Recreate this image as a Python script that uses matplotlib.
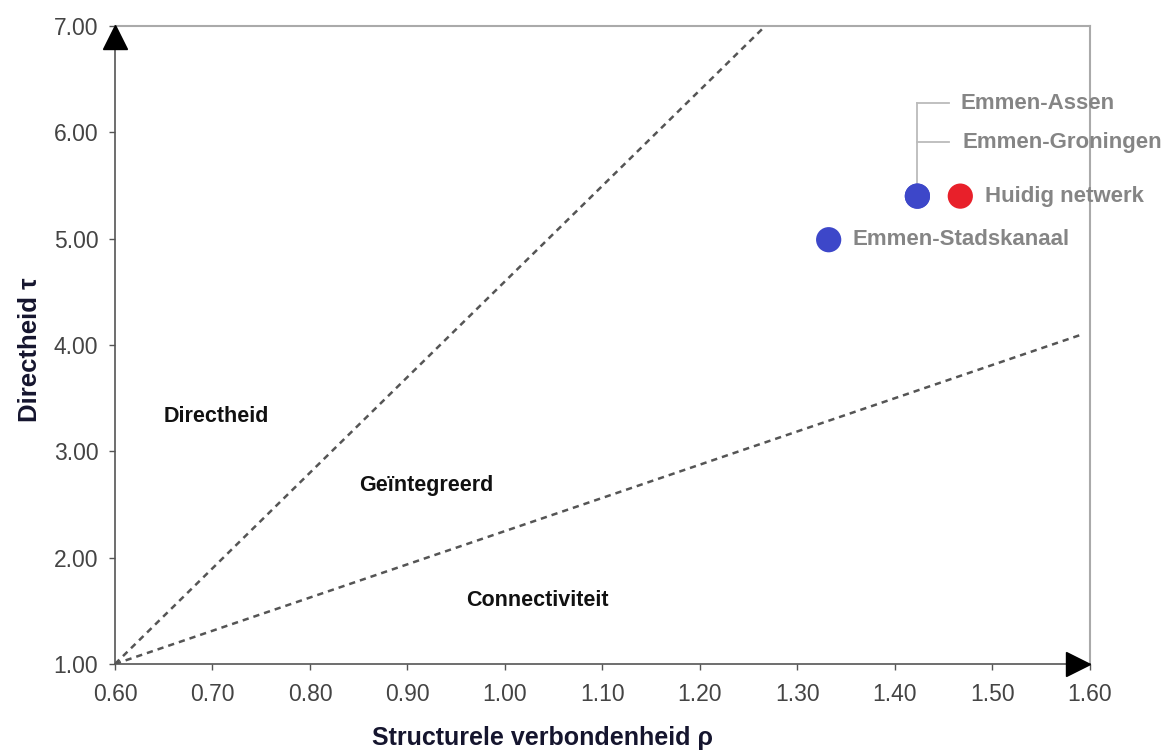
import matplotlib
matplotlib.use('Agg')
import matplotlib.pyplot as plt
import numpy as np

plt.rcParams['font.family'] = ['Liberation Sans', 'DejaVu Sans']

# scenario points
scenarios = ['Huidig netwerk', 'Emmen-Assen', 'Emmen-Groningen', 'Emmen-Stadskanaal']
rho = [1.467, 1.423, 1.423, 1.332]
tau = [5.40, 5.40, 5.40, 4.99]
point_colors = ['#e8202a', '#3d47c9', '#3d47c9', '#3d47c9']

# region boundaries, both starting from (0.60, 1.00)
bound_rho = [[0.60, 1.267], [0.60, 1.592]]
bound_tau = [[1.00, 7.00], [1.00, 4.10]]

regions = ['Directheid', 'Geïntegreerd', 'Connectiviteit']
region_rho = [0.65, 0.85, 0.96]
region_tau = [3.33, 2.68, 1.60]

xticks = np.arange(0.6, 1.61, 0.1)
yticks = np.arange(1.0, 7.01, 1.0)

fig = plt.figure(figsize=(11.67, 7.53), dpi=100)
ax = fig.add_axes([0.0985, 0.1182, 0.8355, 0.8473])

for bx, by in zip(bound_rho, bound_tau):
    ax.plot(bx, by, linestyle=(0, (2.5, 2)), color='#555555', lw=1.8)

# leader lines for the labels sharing the blue point
lx = rho[1]
ax.plot([lx, lx], [tau[1] + 0.12, 6.275], color='#bbbbbb', lw=1.3)
ax.plot([lx, 1.455], [6.275, 6.275], color='#bbbbbb', lw=1.3)
ax.plot([lx, 1.455], [5.907, 5.907], color='#bbbbbb', lw=1.3)

ax.scatter(rho, tau, s=330, c=point_colors, zorder=5, edgecolors='none')

lab_kw = dict(fontsize=16, fontweight='bold', color='#858585', va='center')
ax.text(1.4667, 6.275, scenarios[1], **lab_kw)
ax.text(1.469, 5.907, scenarios[2], **lab_kw)
ax.text(rho[0] + 0.025, tau[0], scenarios[0], **lab_kw)
ax.text(rho[3] + 0.024, tau[3], scenarios[3], **lab_kw)

for name, rx, ty in zip(regions, region_rho, region_tau):
    ax.text(rx, ty, name, fontsize=15.5, fontweight='bold', color='#111111',
            va='center', ha='left')

ax.set_xlim(0.6, 1.6)
ax.set_ylim(1.0, 7.0)
ax.set_xticks(xticks)
ax.set_yticks(yticks)
ax.set_xticklabels(['%.2f' % v for v in xticks])
ax.set_yticklabels(['%.2f' % v for v in yticks])
ax.tick_params(direction='out', length=4, width=1, color='#555555',
               labelsize=16.5, labelcolor='#444444')
ax.tick_params(axis='x', pad=10)
ax.tick_params(axis='y', pad=8)

for side in ['left', 'bottom']:
    ax.spines[side].set_color('#555555')
    ax.spines[side].set_linewidth(1.2)
for side in ['top', 'right']:
    ax.spines[side].set_color('#aaaaaa')
    ax.spines[side].set_linewidth(1.5)

# axis arrows
ax.plot(0, 0.982, marker='^', markersize=17, color='black',
        transform=ax.transAxes, clip_on=False, zorder=6)
ax.plot(0.988, 0, marker='>', markersize=17, color='black',
        transform=ax.transAxes, clip_on=False, zorder=6)

ax.set_xlabel('Structurele verbondenheid ρ', fontsize=18, fontweight='bold',
              color='#15152e', va='center')
ax.set_ylabel('Directheid τ', fontsize=18.5, fontweight='bold',
              color='#15152e', va='center')
ax.xaxis.set_label_coords(0.439, -0.116)
ax.yaxis.set_label_coords(-0.087, 0.493)

fig.savefig('out.png', dpi=100)
